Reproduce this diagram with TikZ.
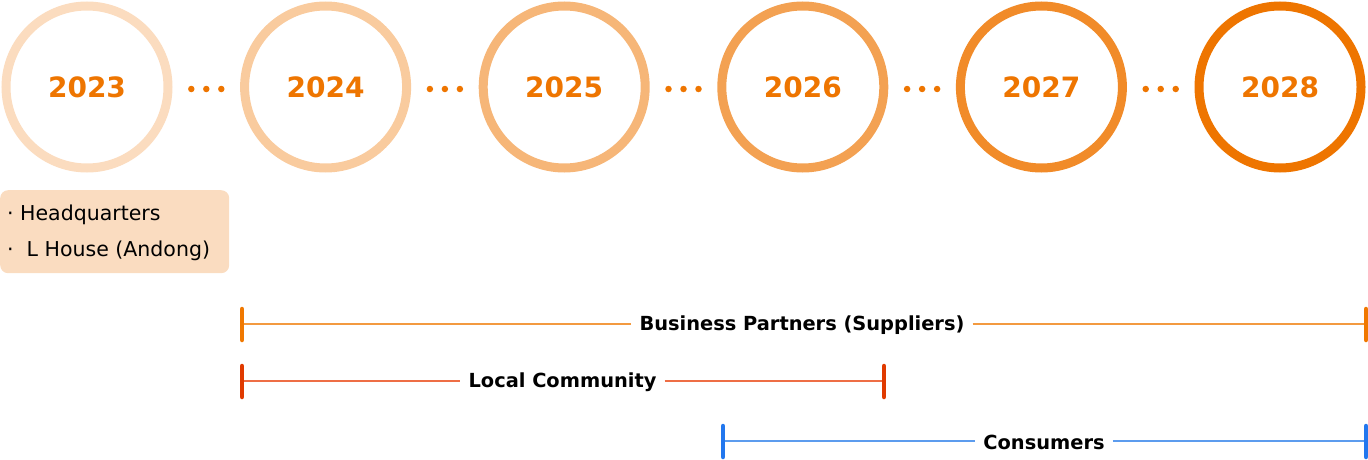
\documentclass[tikz,border=0pt]{standalone}
\usepackage{fontspec}
\setmainfont{DejaVu Sans}
\definecolor{base}{HTML}{EE7500}
\definecolor{boxfill}{HTML}{FADCC0}
\definecolor{bpTick}{HTML}{F07800}
\definecolor{bpLine}{HTML}{F39A40}
\definecolor{lcTick}{HTML}{E03A00}
\definecolor{lcLine}{HTML}{EE6E45}
\definecolor{cTick}{HTML}{2277EE}
\definecolor{cLine}{HTML}{5C9CEE}
\tikzset{
  yearcirc/.style={circle, draw=#1, line width=9pt, minimum size=162pt, inner sep=0pt,
    text=base, font=\fontsize{28}{30}\selectfont\bfseries},
  dotmark/.style={circle, fill=base, inner sep=0pt, minimum size=6.5pt},
  spanlabel/.style={font=\fontsize{19.4}{22}\selectfont\bfseries, text=black, inner sep=0pt},
  tickbar/.style={line width=4.5pt, line cap=round},
  spanline/.style={line width=2.2pt},
  listtext/.style={font=\fontsize{20.5}{24}\selectfont, anchor=west, inner sep=0pt}
}
\begin{document}
\begin{tikzpicture}[x=1pt,y=-1pt]
\useasboundingbox (0,0) rectangle (1368,460);
% circles
\node[yearcirc=base!25!white] (y23) at (87,87) {2023};
\node[yearcirc=base!38!white] (y24) at (325.6,87) {2024};
\node[yearcirc=base!53!white] (y25) at (564.2,87) {2025};
\node[yearcirc=base!68!white] (y26) at (802.8,87) {2026};
\node[yearcirc=base!84!white] (y27) at (1041.4,87) {2027};
\node[yearcirc=base] (y28) at (1280,87) {2028};
% dots
\foreach \i/\x in {a/206.3, b/444.9, c/683.5, d/922.1, e/1160.7}{
  \node[dotmark] (d\i1) at (\x-15,89) {};
  \node[dotmark] (d\i2) at (\x,89) {};
  \node[dotmark] (d\i3) at (\x+15,89) {};
}
% box
\node[fill=boxfill, rounded corners=8pt, minimum width=229pt, minimum height=83pt, inner sep=0pt, anchor=north west] (box) at (0,190) {};
\node[listtext] (t1) at (7,215) {\textperiodcentered\ Headquarters};
\node[listtext] (t2) at (7,251) {\textperiodcentered\ \ L House (Andong)};
% Business Partners
\coordinate (bpL) at (242,324);
\coordinate (bpR) at (1366,324);
\coordinate (bpLt) at (242,309); \coordinate (bpLb) at (242,340);
\coordinate (bpRt) at (1366,309); \coordinate (bpRb) at (1366,340);
\node[spanlabel] (bp) at (802,325) {Business Partners (Suppliers)};
\draw[spanline, bpLine] (bpL) -- ([xshift=-8pt]bp.west |- bpL);
\draw[spanline, bpLine] ([xshift=8pt]bp.east |- bpR) -- (bpR);
\draw[tickbar, bpTick] (bpLt) -- (bpLb);
\draw[tickbar, bpTick] (bpRt) -- (bpRb);
% Local Community
\coordinate (lcL) at (242,381);
\coordinate (lcR) at (884,381);
\coordinate (lcLt) at (242,366); \coordinate (lcLb) at (242,397);
\coordinate (lcRt) at (884,366); \coordinate (lcRb) at (884,397);
\node[spanlabel] (lc) at (562.5,382) {Local Community};
\draw[spanline, lcLine] (lcL) -- ([xshift=-8pt]lc.west |- lcL);
\draw[spanline, lcLine] ([xshift=8pt]lc.east |- lcR) -- (lcR);
\draw[tickbar, lcTick] (lcLt) -- (lcLb);
\draw[tickbar, lcTick] (lcRt) -- (lcRb);
% Consumers
\coordinate (cL) at (723,441);
\coordinate (cR) at (1366,441);
\coordinate (cLt) at (723,426); \coordinate (cLb) at (723,457);
\coordinate (cRt) at (1366,426); \coordinate (cRb) at (1366,457);
\node[spanlabel] (cs) at (1044,442) {Consumers};
\draw[spanline, cLine] (cL) -- ([xshift=-8pt]cs.west |- cL);
\draw[spanline, cLine] ([xshift=8pt]cs.east |- cR) -- (cR);
\draw[tickbar, cTick] (cLt) -- (cLb);
\draw[tickbar, cTick] (cRt) -- (cRb);
\end{tikzpicture}
\end{document}
